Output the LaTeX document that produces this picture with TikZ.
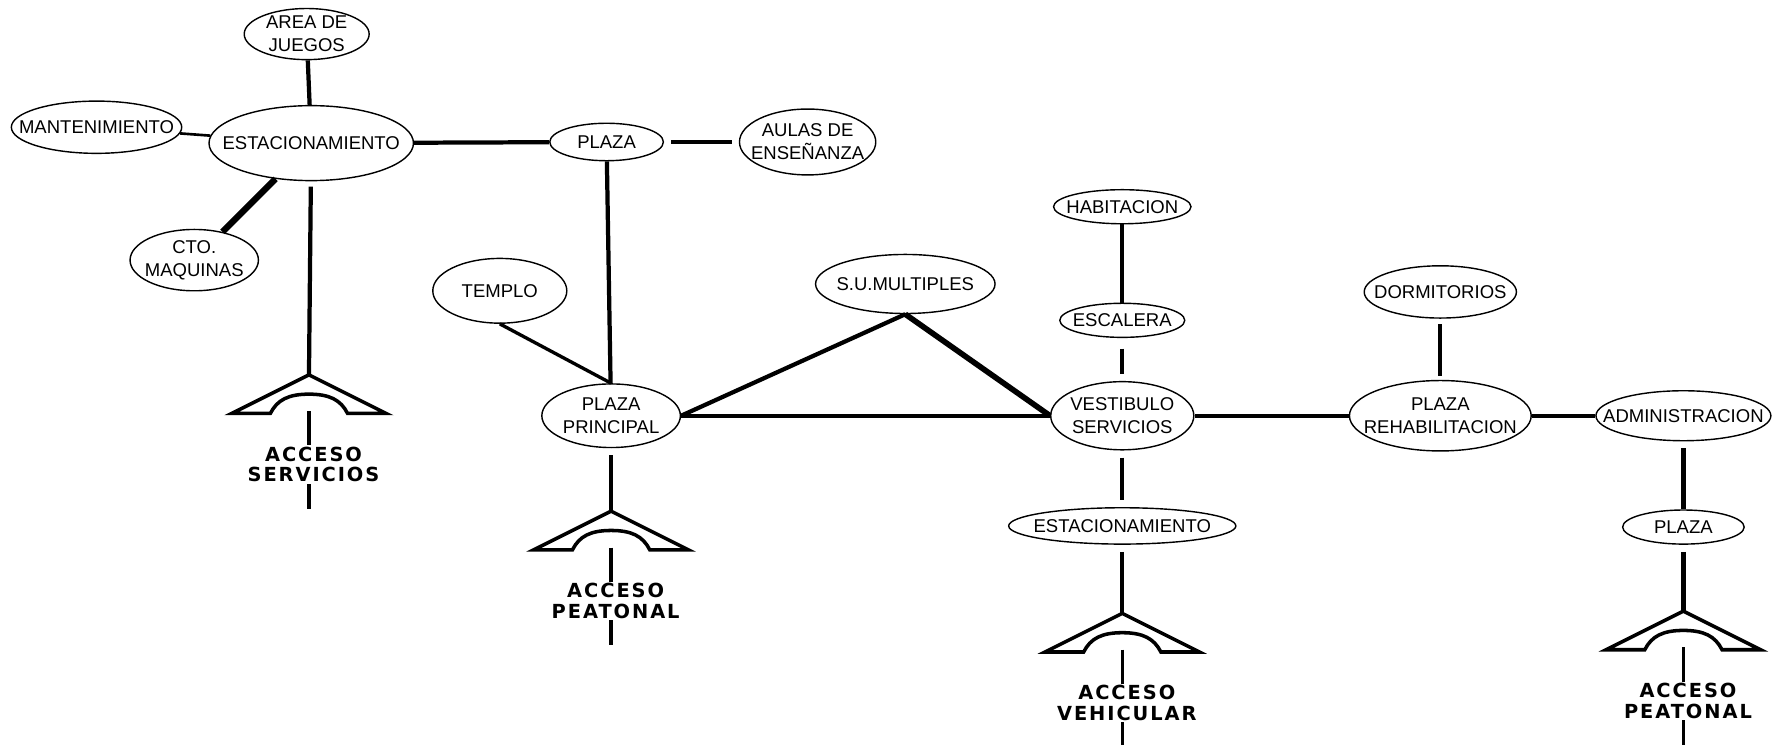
\documentclass[tikz,border=0pt]{standalone}
\usepackage{fontspec}
\setmainfont{Liberation Sans}
\newfontfamily\accfont[LetterSpace=10]{DejaVu Sans}
\usepackage{tikz}
\usetikzlibrary{shapes.geometric}
\newcommand\px{0.6443pt}

\begin{document}
\begin{tikzpicture}[x=\px, y=-\px,
    room/.style 2 args={ellipse, draw, line width=0.8pt, inner sep=-30pt, minimum width=#1*\px, minimum height=#2*\px, align=center, font=\fontsize{10.5}{13}\selectfont},
    wire/.style={line width=2.4pt},
    roof/.style={line width=2pt},
    acclabel/.style={fill=white, inner sep=1pt, align=center, font=\accfont\bfseries\fontsize{11}{11.6}\selectfont}]
    \useasboundingbox (0,0) rectangle (1560,655);
    \node[room={110}{45}] (juegos) at (270,30) {AREA DE\\JUEGOS};
    \node[room={150}{46}] (mant) at (85,112) {MANTENIMIENTO};
    \node[room={180}{66}] (estA) at (274,126) {ESTACIONAMIENTO};
    \node[room={113}{54}] (maq) at (171,229) {CTO.\\MAQUINAS};
    \node[room={100}{33}] (plazaA) at (534,125) {PLAZA};
    \node[room={120}{58}] (aulas) at (711,125) {AULAS DE\\ENSEÑANZA};
    \node[room={118}{57}] (templo) at (440,256) {TEMPLO};
    \node[room={122}{56}] (plazaP) at (538,366) {PLAZA\\PRINCIPAL};
    \node[room={158}{52}] (sum) at (797,250) {S.U.MULTIPLES};
    \node[room={121}{30}] (hab) at (988,182) {HABITACION};
    \node[room={110}{30}] (esc) at (988,282) {ESCALERA};
    \node[room={126}{60}] (vest) at (988,366) {VESTIBULO\\SERVICIOS};
    \node[room={200}{32}] (estB) at (988,463) {ESTACIONAMIENTO};
    \node[room={134}{46}] (dorm) at (1268,257) {DORMITORIOS};
    \node[room={160}{62}] (plazaR) at (1268,366) {PLAZA\\REHABILITACION};
    \node[room={154}{44}] (admin) at (1482,366) {ADMINISTRACION};
    \node[room={107}{30}] (plazaB) at (1482,464) {PLAZA};
    % accesos
    \foreach \n/\x/\y/\lbl in {1/272/330/SERVICIOS, 2/538/450/PEATONAL, 3/988/540/VEHICULAR, 4/1482/538/PEATONAL}{
        \coordinate (acc\n) at (\x,\y);
        \draw[roof] (\x,\y+32) -- (\x,\y+118);
        \draw[roof, shift={(\x,\y)}] (0,0) -- (-68,34) -- (-34,34) .. controls (-28,22) and (-18,17) .. (0,17) .. controls (18,17) and (28,22) .. (34,34) -- (68,34) -- cycle;
        \node[acclabel] (acctxt\n) at (\x+4,\y+79) {ACCESO\\\lbl};
    }
    \draw[wire] (juegos) -- (estA);
    \draw[wire, line width=1.5pt] (mant) -- (estA);
    \draw[wire, line width=3.6pt] (estA) -- (maq);
    \draw[wire, shorten <=3pt] (estA) -- (acc1);
    \draw[wire] (estA) -- (plazaA);
    \draw[wire, shorten <=4pt, shorten >=4pt] (plazaA) -- (aulas);
    \draw[wire] (plazaA) -- (plazaP);
    \draw[wire, line width=1.9pt] (templo.south) -- (plazaP.north);
    \draw[wire, shorten <=4pt] (plazaP) -- (acc2);
    \draw[wire] (plazaP.east) -- (sum.south);
    \draw[wire, line width=3.2pt] (sum.south) -- (vest.west);
    \draw[wire] (plazaP.east) -- (vest.west);
    \draw[wire] (hab) -- (esc);
    \draw[wire, shorten <=6pt, shorten >=4pt] (esc) -- (vest);
    \draw[wire, shorten <=4pt, shorten >=4pt] (vest) -- (estB);
    \draw[wire, shorten <=4pt] (estB) -- (acc3);
    \draw[wire] (vest) -- (plazaR);
    \draw[wire, shorten <=3pt, shorten >=2pt] (dorm) -- (plazaR);
    \draw[wire] (plazaR) -- (admin);
    \draw[wire, shorten <=4pt] (admin) -- (plazaB);
    \draw[wire, shorten <=4pt] (plazaB) -- (acc4);
\end{tikzpicture}
\end{document}
